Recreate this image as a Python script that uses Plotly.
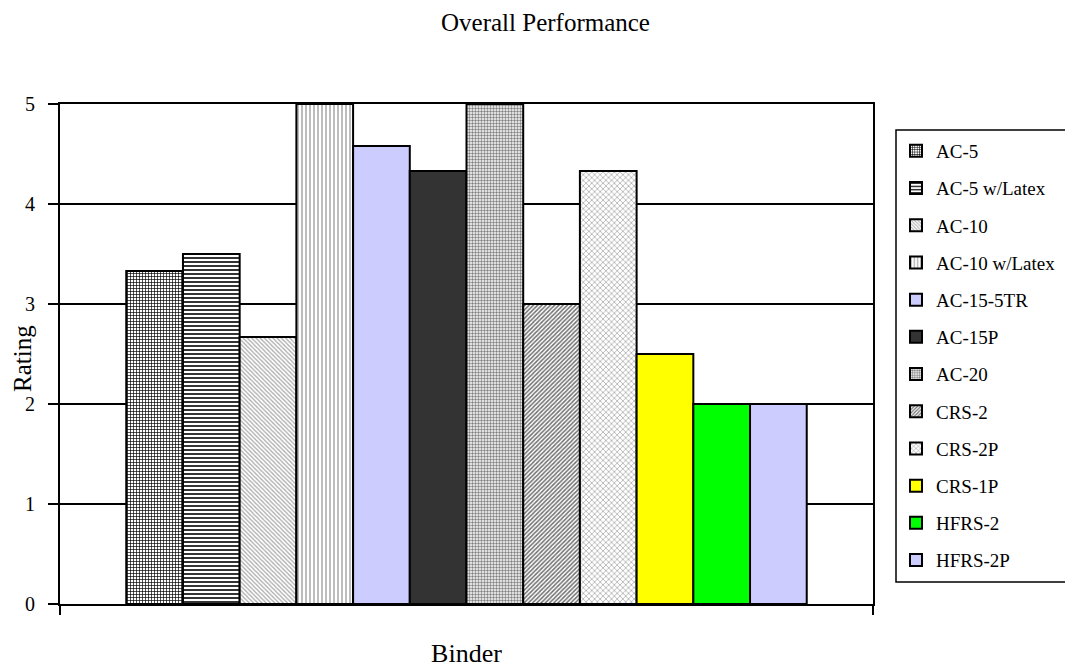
import plotly.graph_objects as go

category = ["Binder"]
series_names = ["AC-5", "AC-5 w/Latex", "AC-10", "AC-10 w/Latex", "AC-15-5TR",
                "AC-15P", "AC-20", "CRS-2", "CRS-2P", "CRS-1P", "HFRS-2", "HFRS-2P"]
ratings = [3.33, 3.5, 2.67, 5.0, 4.58, 4.33, 5.0, 3.0, 4.33, 2.5, 2.0, 2.0]

# style per series: (background colour, pattern shape, pattern colour, size, solidity)
styles = [
    ("white", "+", "#000000", 3, 0.4),
    ("white", "-", "#000000", 4, 0.4),
    ("white", "\\", "#a8a8a8", 3, 0.4),
    ("white", "|", "#a0a0a0", 4, 0.35),
    ("#CCCCFF", "", None, None, None),
    ("#333333", "", None, None, None),
    ("white", ".", "#808080", 3, 0.5),
    ("white", "/", "#707070", 3, 0.5),
    ("white", "x", "#9a9a9a", 4, 0.3),
    ("#FFFF00", "", None, None, None),
    ("#00FF00", "", None, None, None),
    ("#CCCCFF", "", None, None, None),
]

FONT = "Liberation Serif, Times New Roman, serif"

# The page body has an 8px margin, so the figure is sized 8px smaller.
W, H = 1065, 660
L, T = 52, 96
PW, PH = 813, 500
R = W - L - PW
B = H - T - PH

fig = go.Figure()
for name, val, st in zip(series_names, ratings, styles):
    bg, shape, fg, size, sol = st
    marker = dict(color=bg, line=dict(color="black", width=2))
    if shape:
        marker["pattern"] = dict(shape=shape, fgcolor=fg, bgcolor=bg, size=size,
                                 solidity=sol, fillmode="replace")
    fig.add_trace(go.Bar(x=category, y=[val], name=name, marker=marker,
                         legendgroup=name))

fig.update_layout(
    width=W, height=H, autosize=False,
    margin=dict(l=L, r=R, t=T, b=B, autoexpand=False),
    paper_bgcolor="white", plot_bgcolor="white",
    font=dict(family=FONT, color="black", size=20),
    barmode="group", bargap=0.163, bargroupgap=0,
    title=dict(text="Overall Performance", x=537.5 / W, xref="container", xanchor="center",
               y=1 - 14 / H, yref="container", yanchor="middle",
               font=dict(family=FONT, size=25, color="black")),
    legend=dict(x=(896 - 60) / PW, xanchor="left", y=(604 - 132) / PH, yanchor="top",
                font=dict(family=FONT, size=19, color="black"),
                bgcolor="rgba(0,0,0,0)", borderwidth=0,
                tracegroupgap=9.5, traceorder="grouped"),
    showlegend=True,
)

fig.update_xaxes(
    type="category", showticklabels=False, tickson="boundaries",
    ticks="outside", ticklen=9, tickwidth=1.5, tickcolor="black",
    showline=True, linecolor="black", linewidth=2, mirror=True,
    showgrid=False, automargin=False,
    title=dict(text="Binder", standoff=43, font=dict(family=FONT, size=26, color="black")),
)
fig.update_yaxes(
    range=[0, 5], dtick=1, tick0=0,
    ticks="outside", ticklen=10, tickwidth=1.5, tickcolor="black",
    ticklabelstandoff=9,
    showline=True, linecolor="black", linewidth=2, mirror=True,
    showgrid=True, gridcolor="black", gridwidth=1.5, zeroline=False,
    tickfont=dict(family=FONT, size=20, color="black"),
    automargin=False,
)

# y-axis title placed as rotated text left of the tick labels
fig.add_annotation(text="Rating", xref="paper", yref="paper", x=0, y=0.5,
                   xanchor="center", yanchor="middle", xshift=-38, yshift=-5,
                   textangle=-90, showarrow=False,
                   font=dict(family=FONT, size=25, color="black"))

# legend frame
fig.add_shape(type="rect", xref="paper", yref="paper",
              x0=(896 - 60) / PW, x1=(1072 - 60) / PW,
              y0=(604 - 582) / PH, y1=(604 - 130) / PH,
              line=dict(color="black", width=1.5), fillcolor="rgba(0,0,0,0)",
              layer="above")

fig.write_html("out.html")
